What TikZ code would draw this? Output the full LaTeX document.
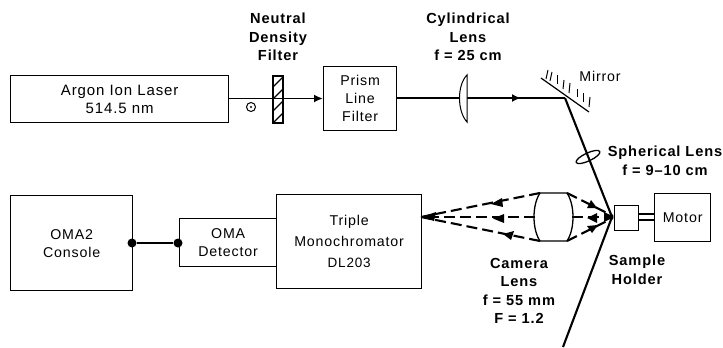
\documentclass[tikz,border=0pt]{standalone}
\usepackage{fontspec}
\setmainfont[LetterSpace=6]{Liberation Sans}
\usetikzlibrary{arrows.meta,calc}
\tikzset{
  boxn/.style={draw,line width=1.3pt,minimum width=#1,inner sep=0pt,align=center,anchor=north west,font=\fontsize{14.2}{18}\selectfont},
  lbl/.style={align=center,inner sep=0pt,font=\fontsize{14.6}{18.5}\selectfont\bfseries},
  beam/.style={line width=1.8pt},
  tip/.style={-{Latex[length=9pt,width=8pt]}},
  ray/.style={line width=2.1pt,dash pattern=on 11pt off 5pt},
  rayhead/.style={fill=black,draw=none},
  dot/.style={circle,fill=black,inner sep=0pt,minimum size=9pt}
}
\begin{document}
\begin{tikzpicture}[x=1pt,y=-1pt]
\useasboundingbox (0,0) rectangle (723,348);
% boxes
\node[boxn=218pt,minimum height=47pt,font=\fontsize{15}{18}\selectfont] (laser) at (10,75) {Argon Ion Laser\\514.5 nm};
\node[boxn=73pt,minimum height=64pt] (prism) at (323,66) {Prism\\Line\\Filter};
\node[boxn=122pt,minimum height=95pt] (console) at (10,195) {OMA2\\Console};
\node[boxn=97pt,minimum height=48pt] (det) at (179,218) {OMA\\Detector};
\node[boxn=145pt,minimum height=94pt,font=\fontsize{14.2}{21}\selectfont] (triple) at (276,194) {Triple\\Monochromator\\{\fontsize{13.5}{21}\selectfont DL203}};
\node[boxn=56pt,minimum height=48pt] (motor) at (654,193) {Motor};
\node[draw,line width=1.3pt,minimum width=24pt,minimum height=25pt,inner sep=0pt,anchor=north west] (sample) at (614,205) {};
% labels
\node[lbl] (l1) at (278,37) {Neutral\\Density\\Filter};
\node[lbl] (l2) at (468,37) {Cylindrical\\Lens\\f = 25 cm};
\node[align=center,inner sep=0pt,font=\fontsize{14.2}{16}\selectfont] (l3) at (600,76) {Mirror};
\node[lbl] (l4) at (665,161) {Spherical Lens\\f = 9--10 cm};
\node[lbl] (l5) at (519,291) {Camera\\Lens\\f = 55 mm\\F = 1.2};
\node[lbl] (l6) at (637,270) {Sample\\Holder};
% polarisation mark
\node[draw,circle,line width=1pt,minimum size=9pt,inner sep=0pt] (pol) at (251,107) {};
\fill (pol.center) circle (1.2pt);
% beam points
\coordinate (mp) at (565,98);
\coordinate (sp) at (612,217);
\coordinate (endb) at (563,347);
% filter
\node[draw,line width=1.2pt,minimum width=10pt,minimum height=47pt,inner sep=0pt] (nd) at (278,99.5) {};
\begin{scope}
  \clip (nd.south west) rectangle (nd.north east);
  \foreach \y in {76,88,100,112,124,136}
    \draw[line width=1.1pt] (272,\y) -- (284,\y-12);
\end{scope}
% beams
\draw[beam] (laser.east |- 0,98.5) -- (nd.west |- 0,98.5);
\draw[beam] (nd.west |- 0,98.5) -- (nd.east |- 0,98.5);
\draw[beam,tip] (nd.east |- 0,98.5) -- (prism.west |- 0,98.5);
\draw[beam] (prism.east |- 0,98) -- (mp);
\draw[beam,tip] (470,98) -- (521,98);
\draw[line width=2.1pt] (mp) -- (sp) -- (endb);
% cyl lens shape
\draw[line width=1pt,fill=white] (467,75) .. controls (457,85) and (457,111) .. (467,122) -- cycle;
% mirror
\draw[line width=1.2pt] (541,78) -- (589,112);
\foreach \a/\b/\c/\d in {548/70/546/79,552/72/550/81,557/75/557/84,564/80/563/89,570/83/569/93,577/89/577/97,583/93/583/102,590/97/589/107}
  \draw[line width=1pt] (\a,\b) -- (\c,\d);
% spherical lens
\draw[line width=1.3pt,rotate around={25:(588,157)}] (588,157) ellipse (13pt and 4pt);
% camera lens
\draw[line width=1.3pt] (540,193) -- (567,193) .. controls (575,205) and (575,229) .. (567,241) -- (540,241) .. controls (532,229) and (532,205) .. (540,193) -- cycle;
% shaft
\draw[line width=1.2pt] (sample.east |- 0,214) -- (motor.west |- 0,214);
\draw[line width=1.2pt] (sample.east |- 0,220) -- (motor.west |- 0,220);
% rays
\coordinate (slit) at (421,217);
\draw[ray] (540,193) -- (slit);
\draw[ray] (535,217) -- (slit);
\draw[ray] (540,241) -- (slit);
\draw[ray] (567,193) -- (613,216);
\draw[ray] (572,217) -- (613,217);
\draw[ray] (567,241) -- (613,218);
% heads
\fill[rayhead] (421,217) -- (436,212) -- (434,221) -- cycle;
\fill[rayhead] (491,204) -- (502,198) -- (503,207) -- cycle;
\fill[rayhead] (493,218.5) -- (504,214) -- (504,223) -- cycle;
\fill[rayhead] (503,234) -- (514,231) -- (511,240) -- cycle;
\fill[rayhead] (597,208) -- (587,208) -- (591,200) -- cycle;
\fill[rayhead] (587,218) -- (597,213) -- (597,223) -- cycle;
\fill[rayhead] (598,225) -- (587,226) -- (592,233) -- cycle;
\fill[rayhead] (614,217) -- (604,212) -- (604,222) -- cycle;
% oma link
\node[dot] (d1) at (132,243) {};
\node[dot] (d2) at (178,243) {};
\draw[line width=2.6pt] (d1) -- (d2);
\end{tikzpicture}
\end{document}
